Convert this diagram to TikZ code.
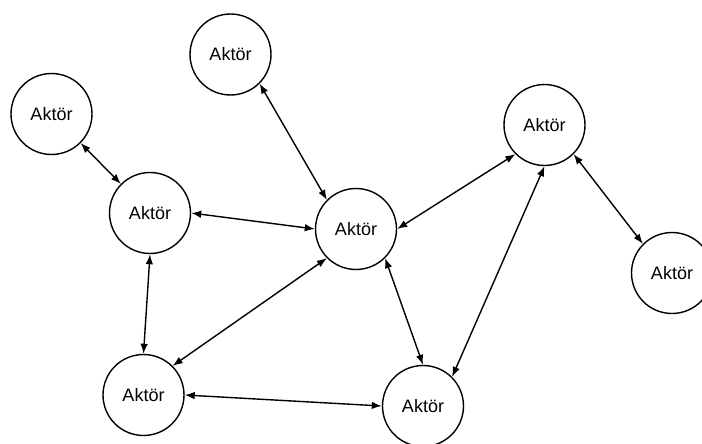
\documentclass[tikz,border=0pt]{standalone}
\usepackage{fontspec}
\setmainfont{Liberation Sans}
\usetikzlibrary{arrows.meta}
\begin{document}
\begin{tikzpicture}[x=1pt,y=-1pt,
  actor/.style={circle,draw=black,line width=1.4pt,minimum size=81pt,inner sep=0pt,font=\fontsize{18pt}{20pt}\selectfont,fill=white},
  link/.style={line width=1.4pt,{Latex[length=10pt,width=7.5pt]}-{Latex[length=10pt,width=7.5pt]}}]
\useasboundingbox (0,0) rectangle (702,444);
\clip (0,0) rectangle (702,444);
\fill[white] (0,0) rectangle (702,444);
\node[actor] (T)  at (230.5,54.5) {Aktör};
\node[actor] (L)  at (51.5,114) {Aktör};
\node[actor] (ML) at (150,213) {Aktör};
\node[actor] (C)  at (356,229) {Aktör};
\node[actor] (RT) at (544.5,125) {Aktör};
\node[actor] (FR) at (672,273) {Aktör};
\node[actor] (BL) at (143.5,395) {Aktör};
\node[actor] (BM) at (423,406) {Aktör};
\draw[link] (L.south east) -- (ML.north west);
\draw[link] (T.south east) -- (C.north west);
\draw[link] (ML.east) -- (C.west);
\draw[link] (ML.south) -- (BL.north);
\draw[link] (C.east) -- (RT.south west);
\draw[link] (C.south west) -- (BL.north east);
\draw[link] (C.south east) -- (BM.north);
\draw[link] (RT.south) -- (BM.north east);
\draw[link] (RT.south east) -- (FR.north west);
\draw[link] (BL.east) -- (BM.west);
\end{tikzpicture}
\end{document}
